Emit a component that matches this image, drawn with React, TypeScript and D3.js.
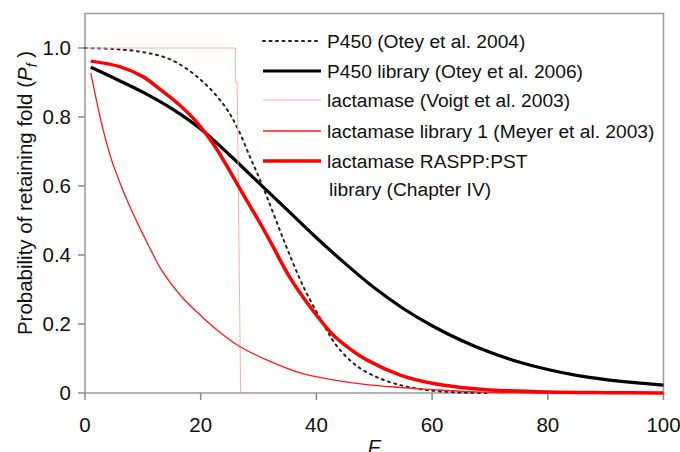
import * as d3 from "d3";

const W = 680;
const H = 452;

// F values and probabilities
const p450OteyF = [0, 5, 10, 15, 20, 24, 26.3, 28.5, 30.2, 31.6, 33.4, 35, 37.7, 41.2, 43.5, 47, 51, 54.5, 58, 62, 66, 70];
const p450OteyP = [1.0, 0.997, 0.988, 0.965, 0.908, 0.835, 0.77, 0.685, 0.62, 0.562, 0.484, 0.416, 0.31, 0.2, 0.137, 0.078, 0.042, 0.023, 0.011, 0.004, 0.001, 0];

const p450LibF = [1, 5, 10, 15, 20, 25, 30, 35, 40, 45, 50, 55, 60, 65, 70, 75, 80, 85, 90, 95, 100];
const p450LibP = [0.944, 0.913, 0.872, 0.824, 0.765, 0.69, 0.61, 0.53, 0.45, 0.375, 0.305, 0.245, 0.195, 0.153, 0.118, 0.09, 0.068, 0.051, 0.039, 0.03, 0.023];

const voigtF = [0, 26, 26, 26.3, 26.9];
const voigtP = [1.0, 1.0, 0.9, 0.9, 0];

const meyerF = [1, 3, 4.6, 6.3, 7.5, 9.2, 11, 13.2, 16.7, 19.6, 22.5, 26.8, 31.4, 37.2, 42.9, 48.7, 54.5, 60, 65, 70, 80];
const meyerP = [0.928, 0.772, 0.675, 0.598, 0.55, 0.488, 0.427, 0.357, 0.279, 0.231, 0.187, 0.134, 0.096, 0.058, 0.038, 0.024, 0.016, 0.01, 0.005, 0.002, 0];

const rasppF = [1, 6, 10, 13, 16, 19, 22.5, 26, 28, 30, 32, 35.4, 38.9, 42.9, 45.8, 48.7, 54.5, 60, 65, 70, 80, 90, 100];
const rasppP = [0.962, 0.946, 0.917, 0.88, 0.84, 0.791, 0.714, 0.615, 0.557, 0.5, 0.44, 0.335, 0.25, 0.168, 0.128, 0.096, 0.052, 0.028, 0.016, 0.009, 0.003, 0.001, 0];

const xTicks = [0, 20, 40, 60, 80, 100];
const yTicks = [0, 0.2, 0.4, 0.6, 0.8, 1.0];

const legendLabels = [
  "P450 (Otey et al. 2004)",
  "P450 library (Otey et al. 2006)",
  "lactamase (Voigt et al. 2003)",
  "lactamase library 1 (Meyer et al. 2003)",
  "lactamase RASPP:PST",
];

const FONT = "Liberation Sans, Arial, sans-serif";

export default function App() {
  const x = d3.scaleLinear().domain([0, 100]).range([85, 663.5]);
  const y = d3.scaleLinear().domain([0, 1.1]).range([393, 13.5]);

  const line = d3
    .line<[number, number]>()
    .x((d) => x(d[0]))
    .y((d) => y(d[1]))
    .curve(d3.curveCatmullRom.alpha(0.5));
  const straight = d3
    .line<[number, number]>()
    .x((d) => x(d[0]))
    .y((d) => y(d[1]));

  const zip = (fs: number[], ps: number[]) => fs.map((f, i) => [f, ps[i]] as [number, number]);

  const series = [
    { d: line(zip(p450OteyF, p450OteyP)), stroke: "#222", width: 2, dash: "2,4.5" },
    { d: line(zip(p450LibF, p450LibP)), stroke: "#000", width: 3.2, dash: undefined },
    { d: straight(zip(voigtF, voigtP)), stroke: "#ffadad", width: 1, dash: undefined },
    { d: line(zip(meyerF, meyerP)), stroke: "#ff1a1a", width: 1.3, dash: undefined },
    { d: line(zip(rasppF, rasppP)), stroke: "#ff0000", width: 3.5, dash: undefined },
  ];

  const legendY = [41, 71, 100, 131, 161];

  return (
    <svg
      width={W}
      height={H}
      style={{ position: "fixed", left: 0, top: 0, background: "#fff" }}
      fontFamily={FONT}
    >
      {/* frame */}
      <rect
        x={x(0)}
        y={y(1.1)}
        width={x(100) - x(0)}
        height={y(0) - y(1.1)}
        fill="none"
        stroke="#a0a0a0"
        strokeWidth={1.6}
      />

      {/* y axis ticks */}
      {yTicks.map((t) => (
        <g key={"y" + t}>
          <line x1={x(0) - 7} x2={x(0)} y1={y(t)} y2={y(t)} stroke="#888" strokeWidth={1.5} />
          <text x={x(0) - 14} y={y(t) + 7} textAnchor="end" fontSize={20.5} fill="#111">
            {t === 0 ? "0" : d3.format(".1f")(t)}
          </text>
        </g>
      ))}

      {/* x axis ticks */}
      {xTicks.map((t) => (
        <g key={"x" + t}>
          <line x1={x(t)} x2={x(t)} y1={y(0)} y2={y(0) + 7} stroke="#888" strokeWidth={1.5} />
          <text x={x(t)} y={432} textAnchor="middle" fontSize={20.5} fill="#111">
            {t}
          </text>
        </g>
      ))}

      {/* curves */}
      {series.map((s, i) => (
        <path
          key={i}
          d={s.d ?? ""}
          fill="none"
          stroke={s.stroke}
          strokeWidth={s.width}
          strokeDasharray={s.dash}
          strokeLinecap={s.dash ? "round" : "butt"}
        />
      ))}

      {/* legend */}
      {legendLabels.map((lab, i) => (
        <g key={lab}>
          <line
            x1={263}
            x2={321}
            y1={legendY[i]}
            y2={legendY[i]}
            stroke={series[i].stroke}
            strokeWidth={series[i].width}
            strokeDasharray={series[i].dash}
            strokeLinecap={series[i].dash ? "round" : "butt"}
          />
          <text x={327} y={legendY[i] + 7} fontSize={19.2} fill="#111">
            {lab}
          </text>
        </g>
      ))}
      <text x={329} y={196} fontSize={19.2} fill="#111">
        library (Chapter IV)
      </text>

      {/* axis titles */}
      <text
        transform="translate(32,193) rotate(-90)"
        textAnchor="middle"
        fontSize={20.5}
        fill="#111"
      >
        Probability of retaining fold (
        <tspan fontStyle="italic">P</tspan>
        <tspan fontStyle="italic" fontSize={14} dy={5}>f</tspan>
        <tspan dy={-5}> )</tspan>
      </text>
      <text x={374} y={454} textAnchor="middle" fontSize={20.5} fontStyle="italic" fill="#111">
        F
      </text>
    </svg>
  );
}
